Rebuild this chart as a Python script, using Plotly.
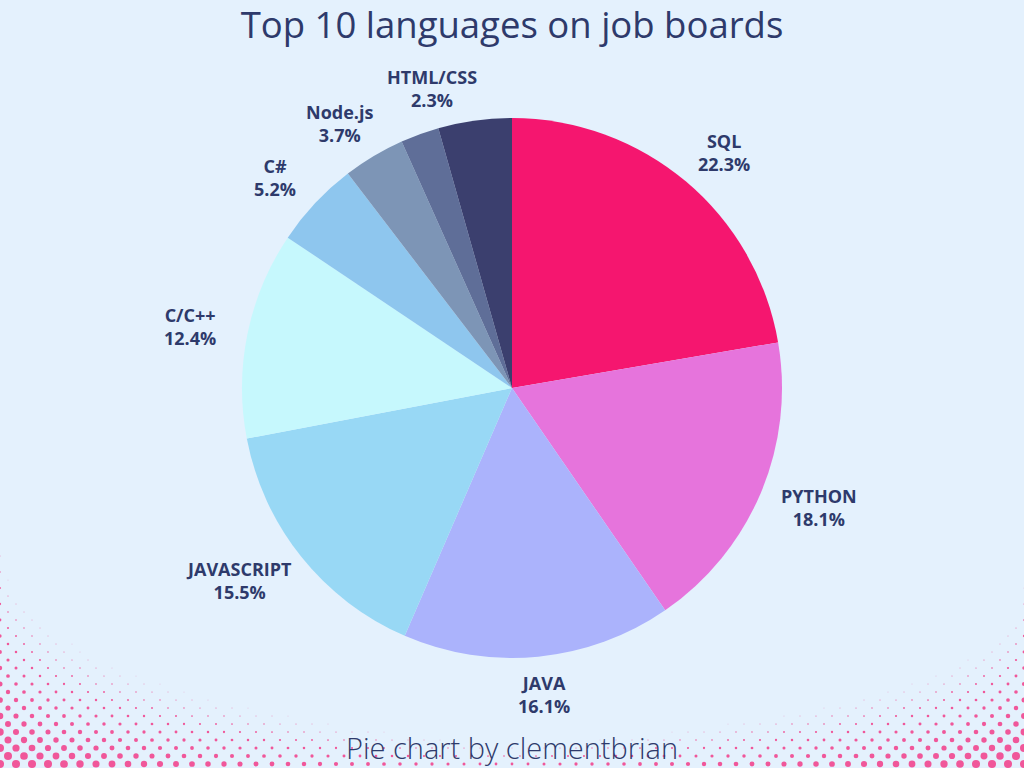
import numpy as np
import plotly.graph_objects as go

# ---- data ----
languages = ["SQL", "PYTHON", "JAVA", "JAVASCRIPT", "C/C++", "C#", "Node.js", "HTML/CSS", "Other"]
shares = [22.3, 18.1, 16.1, 15.5, 12.4, 5.2, 3.7, 2.3, 4.4]
show_label = [True, True, True, True, True, True, True, True, False]
slice_colors = ["#f5166f", "#e674dc", "#abb3fc", "#98d8f5", "#c6f8fd",
                "#8ec6ee", "#7d95b6", "#5f6e98", "#3b3f6e"]

title_text = "Top 10 languages on job boards"
caption_text = "Pie chart by clementbrian"

BG = "#e4f1fd"
NAVY = "#2e3a6b"
W, H = 1024, 768

# ---- decorative halftone corners (background ornament) ----
dx_, dy_, ds_ = [], [], []
row = 0
y = H - 4
while y > 480:
    off = 0 if row % 2 == 0 else 8
    x = off
    while x <= W + 8:
        Ll = np.sqrt(max(x, 0) / 1200.0) + np.sqrt(max(H - y, 0) / 250.0)
        Lr = np.sqrt(max(W - x, 0) / 1300.0) + np.sqrt(max(H - y, 0) / 200.0)
        s = max(12.0 * (1 - Ll), 12.0 * (1 - Lr))
        if s > 0.6:
            dx_.append(x)
            dy_.append(y)
            ds_.append(min(s, 8.0))
        x += 16
    y -= 8
    row += 1

fig = go.Figure()

fig.add_trace(go.Scatter(
    x=dx_, y=dy_, mode="markers",
    marker=dict(size=ds_, color="#f5166f", line=dict(width=0)),
    hoverinfo="skip", showlegend=False,
))

cx, cy, r = 512, 388, 270

fig.add_trace(go.Pie(
    labels=languages, values=shares, sort=False, direction="clockwise", rotation=0,
    marker=dict(colors=slice_colors, line=dict(width=0)),
    textinfo="none",
    domain=dict(x=[(cx - r) / W, (cx + r) / W],
                y=[(H - cy - r) / H, (H - cy + r) / H]),
    showlegend=False, hoverinfo="label+percent",
))

# ---- outside labels at each slice's mid-angle (computed from the data),
#      nudged clockwise when they would collide with the previous label ----
FS = 18
total = float(sum(shares))
R_lab = 308
char_w = 0.58 * FS
hh = 0.65 * FS * 2 / 2 + 2
gap = 12
annotations = []
placed = []
cum = 0.0


def label_pos(theta, hw):
    s, c = np.sin(theta), np.cos(theta)
    return cx + R_lab * s + 0.8 * hw * s, cy - R_lab * c


for lab, v, show in zip(languages, shares, show_label):
    mid = (cum + v / 2) / total * 2 * np.pi
    cum += v
    if not show:
        continue
    pct = f"{v / total * 100:.1f}%"
    hw = 0.5 * max(len(lab), len(pct)) * char_w
    theta = mid
    px, py = label_pos(theta, hw)
    for _ in range(200):
        clash = any(abs(px - qx) < hw + qhw + gap and abs(py - qy) < 2 * hh + gap
                    for qx, qy, qhw in placed)
        if not clash:
            break
        theta += np.radians(0.5)
        px, py = label_pos(theta, hw)
    placed.append((px, py, hw))
    annotations.append(dict(
        text=f"{lab}<br>{pct}", x=px, y=py, xref="x", yref="y",
        xanchor="center", yanchor="middle", showarrow=False, align="center",
        font=dict(family="Open Sans", size=FS, color=NAVY, weight=700)))

annotations.append(dict(text=caption_text, x=0.5, y=1 - 747 / H, xref="paper", yref="paper",
                        xanchor="center", yanchor="middle", showarrow=False,
                        font=dict(family="Open Sans", size=29, color=NAVY, weight=300)))

fig.update_layout(
    width=W, height=H,
    margin=dict(l=0, r=0, t=0, b=0),
    paper_bgcolor=BG, plot_bgcolor=BG,
    xaxis=dict(range=[0, W], visible=False, fixedrange=True),
    yaxis=dict(range=[H, 0], visible=False, fixedrange=True),
    title=dict(text=title_text, x=0.5, xanchor="center", y=1 - 25 / H, yanchor="middle",
               yref="container",
               font=dict(family="Open Sans", size=36.5, color=NAVY)),
    annotations=annotations,
)

fig.write_html("out.html")
